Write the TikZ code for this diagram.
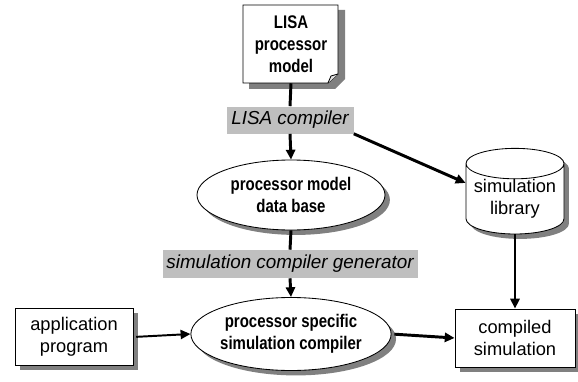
\documentclass[tikz,border=0pt]{standalone}
\usepackage{fontspec}
\setmainfont{Liberation Sans}
\newfontfamily\narrowsans[FakeStretch=0.82]{Liberation Sans}
\usetikzlibrary{arrows.meta,shapes.geometric,shadows}

\newcommand{\pix}{0.025cm}
\newcommand{\txt}{\fontsize{13}{16}\selectfont}

\begin{document}
\begin{tikzpicture}[x=0.025cm, y=-0.025cm, font=\txt,
  wire/.style={line width=2.1pt},
  flow/.style={wire, -{Triangle[length=7pt,width=6.5pt]}},
  shade/.style={drop shadow={shadow xshift=3.5pt, shadow yshift=-3.5pt, fill=black!50, opacity=1}},
  tool/.style={fill=black!25, inner sep=0pt, font=\fontsize{13.4}{16}\selectfont\itshape},
  box/.style={draw, fill=white, line width=0.6pt, shade, align=center, inner sep=0pt},
  data/.style={ellipse, draw, fill=white, line width=0.6pt, shade, align=center, inner sep=0pt, font=\txt\narrowsans\bfseries},
  lib/.style={cylinder, shape border rotate=90, aspect=0.37, draw, fill=white, line width=0.6pt, shade, align=center, inner sep=0pt}]

 \useasboundingbox (0,0) rectangle (578,381);

 % the model file (page with folded corner)
 \fill[black!50] (249,10) -- (345,10) -- (345,79) -- (335,89) -- (249,89) -- cycle;
 \draw[line width=0.6pt, fill=white]
   (243,5) -- (338,5) -- (338,74) -- (328,83) -- (243,83) -- cycle;
 \draw[line width=0.6pt, fill=black!10]
   (328,83) .. controls (330,80) .. (331,76) -- (338,74);
 \node[align=center, font=\fontsize{13}{15.5}\selectfont\narrowsans\bfseries, minimum width=95*\pix, minimum height=78*\pix]
   (lisa) at (291,44) {LISA\\processor\\model};

 \node[tool, minimum width=127*\pix, minimum height=27*\pix] (lisacomp) at (290,120) {LISA compiler};
 \node[data, minimum width=188*\pix, minimum height=70*\pix] (pmdb) at (291,195) {processor model\\data base};
 \node[lib, minimum width=98*\pix, minimum height=85*\pix] (simlib) at (515,199) {simulation\\library};
 \node[tool, minimum width=255*\pix, minimum height=28*\pix] (gen) at (290,264) {simulation compiler generator};

 \node[box, minimum width=118*\pix, minimum height=57*\pix] (app) at (74,337) {application\\program};
 \node[data, minimum width=185*\pix, minimum height=73*\pix] (pssc) at (291,334) {processor specific\\simulation compiler};
 \node[box, minimum width=120*\pix, minimum height=58*\pix] (comp) at (515,338) {compiled\\simulation};

 \draw[wire] (lisa.south) -- (lisacomp.north);
 \draw[flow] (lisacomp.south) -- (pmdb.north);
 \draw[flow] (lisacomp.south east) -- (simlib.162);
 \draw[wire] (pmdb.south) -- (gen.north);
 \draw[flow] (gen.south) -- (pssc.north);
 \draw[flow, line width=1.4pt, shorten <=2pt] (app.east) -- (pssc.west);
 \draw[flow, shorten <=2pt] (pssc.east) -- (comp.west);
 \draw[flow] (simlib.south) -- (comp.north);

\end{tikzpicture}
\end{document}
